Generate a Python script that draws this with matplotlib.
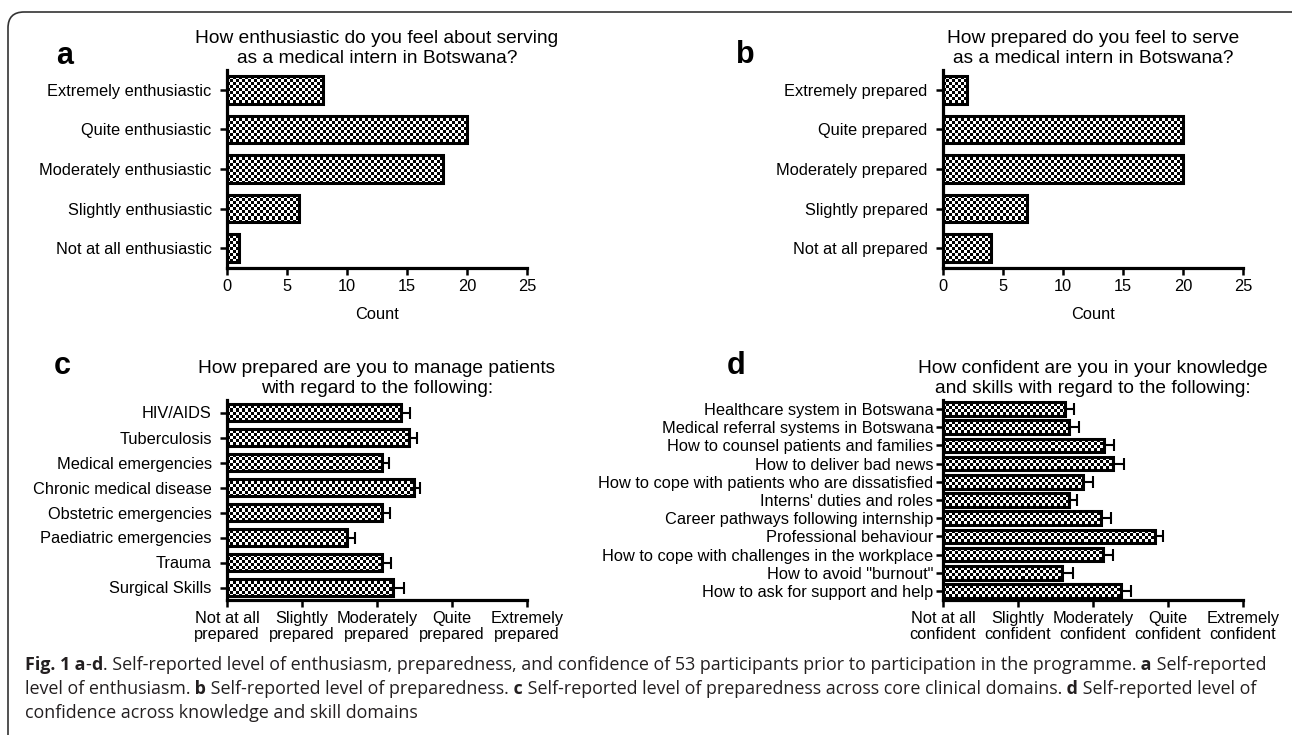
import numpy as np
import matplotlib
matplotlib.use("Agg")
import matplotlib.pyplot as plt
from matplotlib.patches import FancyBboxPatch
from matplotlib.transforms import IdentityTransform

plt.rcParams["font.family"] = ["Liberation Sans", "DejaVu Sans"]

# panel a
enth_labels = ["Extremely enthusiastic", "Quite enthusiastic", "Moderately enthusiastic",
               "Slightly enthusiastic", "Not at all enthusiastic"]
enth_counts = [8, 20, 18, 6, 1]

# panel b
prep_labels = ["Extremely prepared", "Quite prepared", "Moderately prepared",
               "Slightly prepared", "Not at all prepared"]
prep_counts = [2, 20, 20, 7, 4]

# panel c
domain_labels = ["HIV/AIDS", "Tuberculosis", "Medical emergencies", "Chronic medical disease",
                 "Obstetric emergencies", "Paediatric emergencies", "Trauma", "Surgical Skills"]
domain_means = [3.32, 3.43, 3.07, 3.49, 3.06, 2.60, 3.07, 3.21]
domain_err = [0.12, 0.10, 0.09, 0.08, 0.11, 0.11, 0.11, 0.15]

# panel d
skill_labels = ["Healthcare system in Botswana", "Medical referral systems in Botswana",
                "How to counsel patients and families", "How to deliver bad news",
                "How to cope with patients who are dissatisfied", "Interns' duties and roles",
                "Career pathways following internship", "Professional behaviour",
                "How to cope with challenges in the workplace", 'How to avoid "burnout"',
                "How to ask for support and help"]
skill_means = [2.62, 2.68, 3.15, 3.27, 2.86, 2.68, 3.11, 3.83, 3.13, 2.59, 3.37]
skill_err = [0.13, 0.13, 0.13, 0.14, 0.14, 0.11, 0.13, 0.10, 0.13, 0.14, 0.13]

levels = ["Not at all", "Slightly", "Moderately", "Quite", "Extremely"]

W, H = 1292, 735
LABEL_FS = 11.8
TITLE_FS = 13.8


def axes_px(fig, x0, x1, y0, y1):
    # pixel box (top-left origin) -> axes
    return fig.add_axes([x0 / W, 1 - y1 / H, (x1 - x0) / W, (y1 - y0) / H])


def style(ax, ypad=5):
    for s in ["top", "right"]:
        ax.spines[s].set_visible(False)
    for s in ["left", "bottom"]:
        ax.spines[s].set_linewidth(2.3)
    ax.tick_params(axis="both", direction="out", length=5, width=1.8,
                   labelsize=LABEL_FS, pad=3)
    ax.tick_params(axis="y", pad=ypad)


def checker(ax, bars, cell=3):
    bb = ax.get_window_extent()
    nx, ny = int(bb.width / cell), int(bb.height / cell)
    board = np.indices((ny, nx)).sum(axis=0) % 2
    xl, yl = ax.get_xlim(), ax.get_ylim()
    for b in bars:
        im = ax.imshow(board, cmap="gray", extent=(xl[0], xl[1], yl[0], yl[1]),
                       aspect="auto", interpolation="nearest", zorder=2)
        im.set_clip_path(b)
    ax.set_xlim(xl)
    ax.set_ylim(yl)


def count_panel(ax, labels, counts, title):
    y = np.arange(len(labels))
    bars = ax.barh(y, counts, height=0.7, facecolor="none", edgecolor="black",
                   linewidth=2.2, zorder=3)
    ax.set_xlim(0, 25)
    ax.set_ylim(len(labels) - 0.5, -0.5)
    ax.set_xticks(range(0, 26, 5))
    ax.set_yticks(y)
    ax.set_yticklabels(labels)
    ax.set_xlabel("Count", fontsize=LABEL_FS, labelpad=9)
    ax.set_title(title, fontsize=TITLE_FS, pad=5, linespacing=1.2)
    style(ax, ypad=6)
    checker(ax, bars)


def mean_panel(ax, labels, means, err, word, title, height, ypad):
    y = np.arange(len(labels))
    m = np.array(means)
    bars = ax.barh(y, m - 1, left=1, height=height, facecolor="none",
                   edgecolor="black", linewidth=2.2, zorder=3)
    ax.errorbar(m, y, xerr=[np.zeros(len(m)), err], fmt="none", ecolor="black",
                elinewidth=1.5, capsize=4, capthick=1.5, zorder=4)
    ax.set_xlim(1, 5)
    ax.set_ylim(len(labels) - 0.5, -0.5)
    ax.set_xticks(range(1, 6))
    ax.set_xticklabels([f"{l}\n{word}" for l in levels], linespacing=1.1)
    ax.set_yticks(y)
    ax.set_yticklabels(labels)
    ax.set_title(title, fontsize=TITLE_FS, pad=5, linespacing=1.2)
    style(ax, ypad=ypad)
    checker(ax, bars)


fig = plt.figure(figsize=(W / 100, H / 100), dpi=100)

ax_a = axes_px(fig, 227, 527, 70, 268)
ax_b = axes_px(fig, 943, 1243, 70, 268)
ax_c = axes_px(fig, 227, 527, 400, 600)
ax_d = axes_px(fig, 943, 1243, 400, 600)

count_panel(ax_a, enth_labels, enth_counts,
            "How enthusiastic do you feel about serving\nas a medical intern in Botswana?")
count_panel(ax_b, prep_labels, prep_counts,
            "How prepared do you feel to serve\nas a medical intern in Botswana?")
mean_panel(ax_c, domain_labels, domain_means, domain_err, "prepared",
           "How prepared are you to manage patients\nwith regard to the following:", 0.7, 6)
mean_panel(ax_d, skill_labels, skill_means, skill_err, "confident",
           "How confident are you in your knowledge\nand skills with regard to the following:", 0.75, 2)

for letter, (px, py) in zip("abcd", [(65, 56), (745, 55), (62, 366), (736, 366)]):
    fig.text(px / W, 1 - py / H, letter, fontsize=22, fontweight="bold",
             ha="center", va="center")

# rounded frame around the figure
frame = FancyBboxPatch((8, -30), 1312, H - 12 + 30, boxstyle="round,pad=0,rounding_size=16",
                       transform=IdentityTransform(), facecolor="none",
                       edgecolor="#333333", linewidth=1.2)
fig.patches.append(frame)

# caption with bold pieces
caption = [
    [("Fig. 1", True), (" a", True), ("-", False), ("d", True),
     (". Self-reported level of enthusiasm, preparedness, and confidence of 53 participants "
      "prior to participation in the programme.", False), (" a", True), (" Self-reported", False)],
    [("level of enthusiasm.", False), (" b", True), (" Self-reported level of preparedness.", False),
     (" c", True), (" Self-reported level of preparedness across core clinical domains.", False),
     (" d", True), (" Self-reported level of", False)],
    [("confidence across knowledge and skill domains", False)],
]
CAP_FS = 12.85
r = fig.canvas.get_renderer()
for i, line in enumerate(caption):
    x = 25
    yy = 1 - (665 + 24 * i) / H
    for txt, bold in line:
        t = fig.text(x / W, yy, txt, fontsize=CAP_FS, family=["Open Sans", "DejaVu Sans"],
                     fontweight="bold" if bold else "normal", va="center", ha="left",
                     color="#231f20")
        x += t.get_window_extent(r).width

fig.savefig("out.png", dpi=100)
